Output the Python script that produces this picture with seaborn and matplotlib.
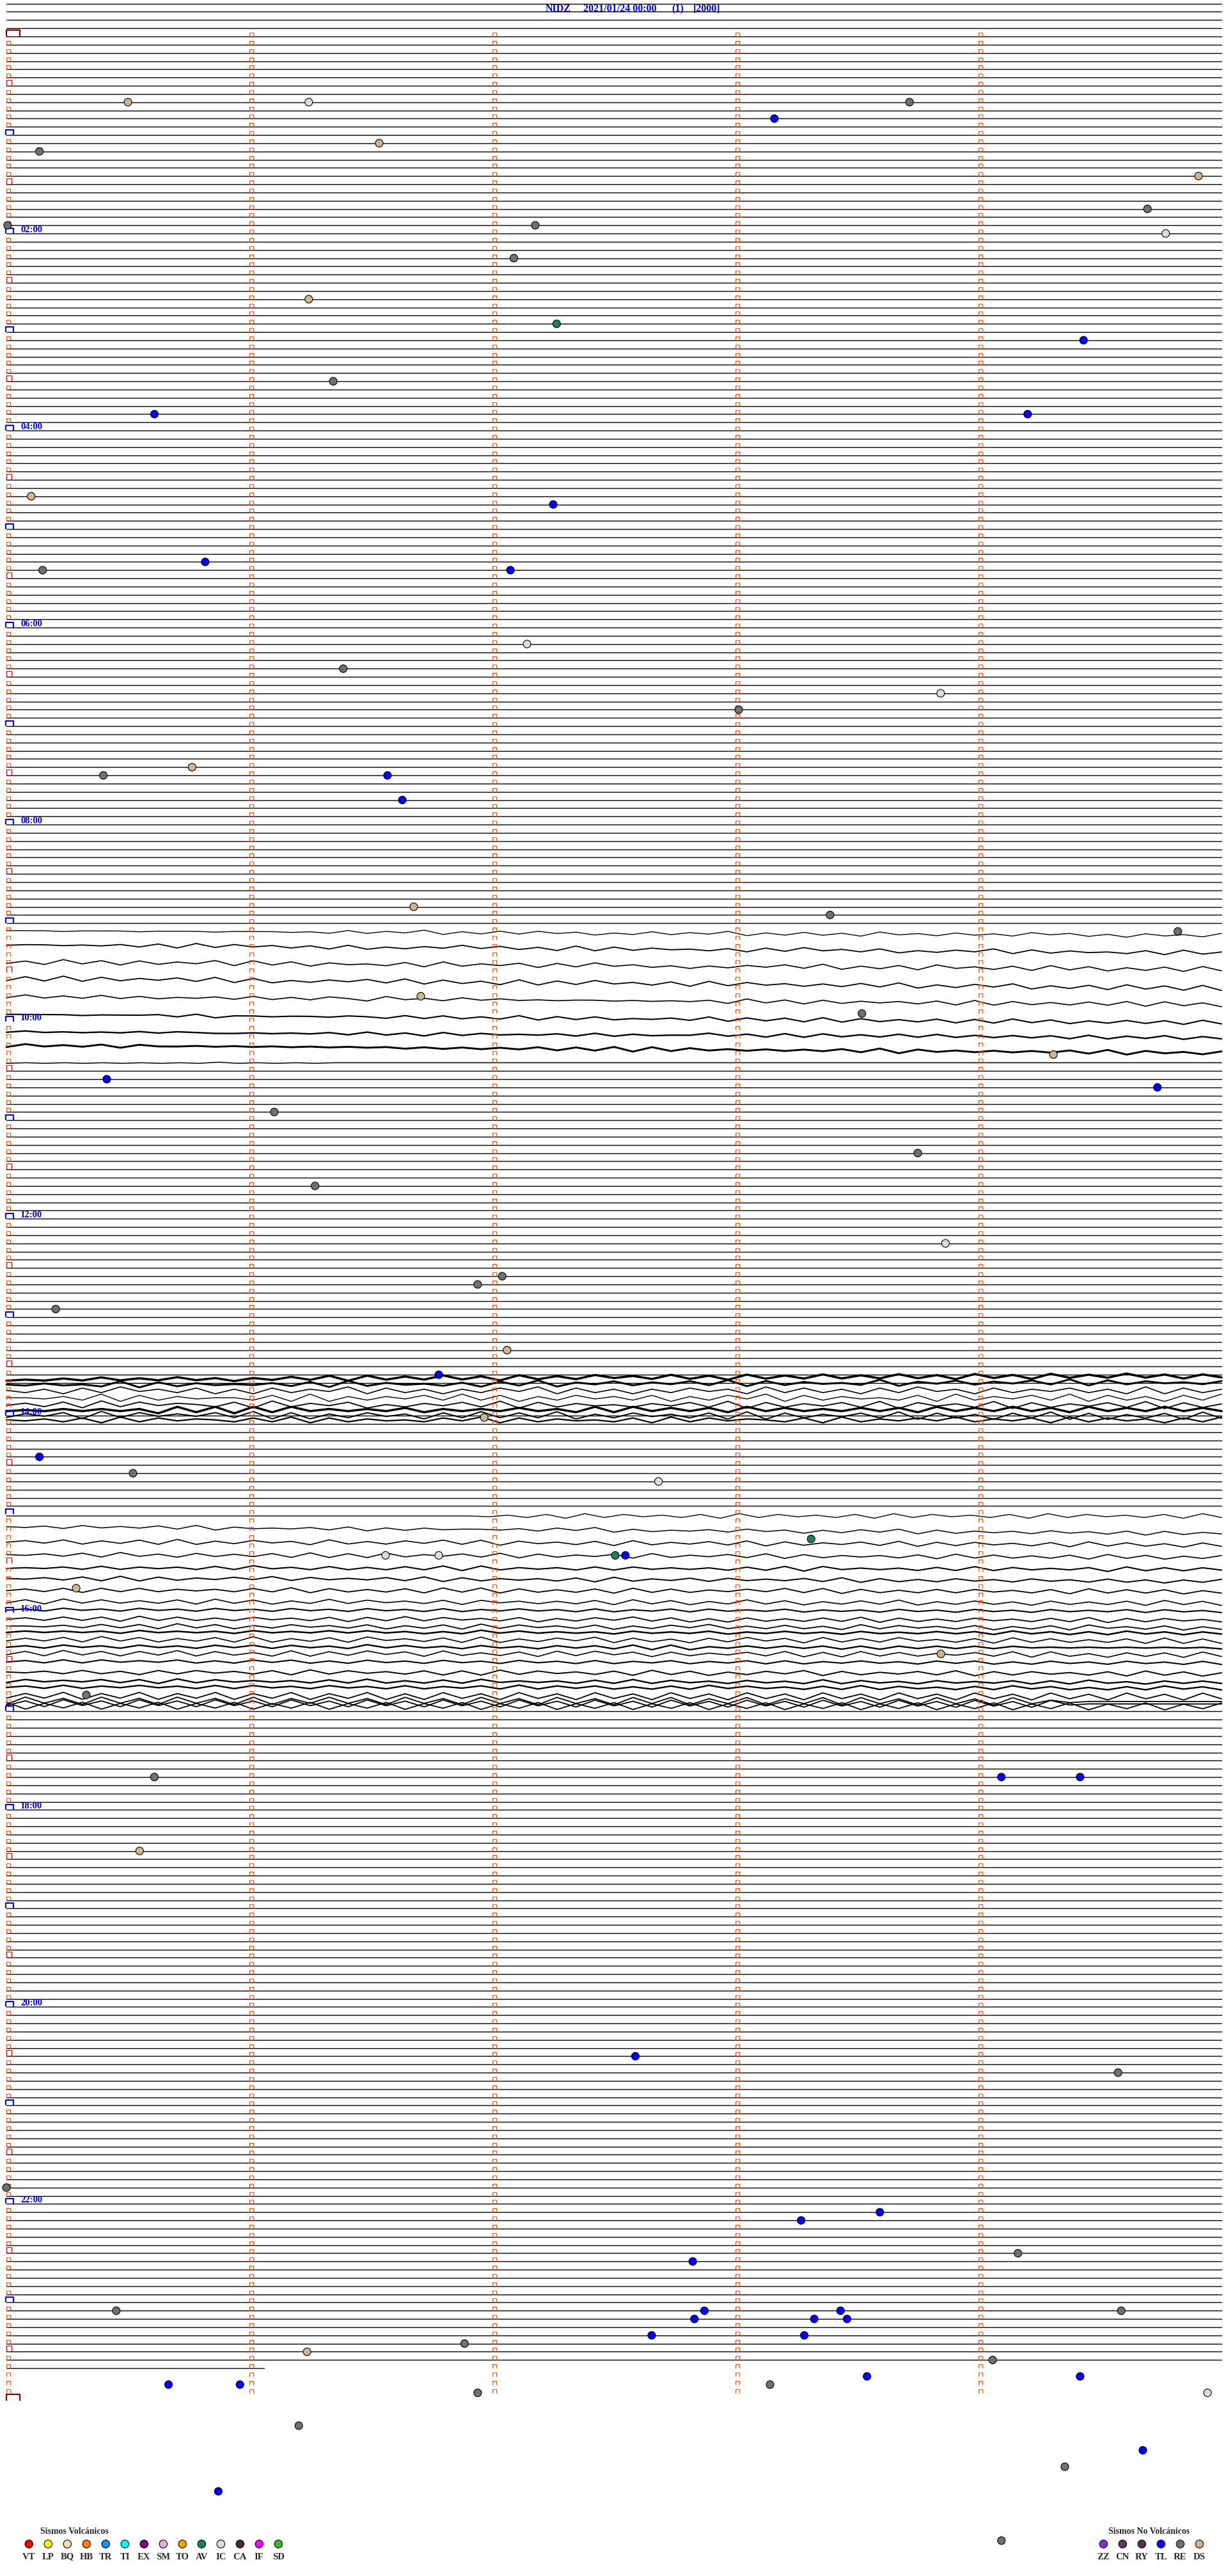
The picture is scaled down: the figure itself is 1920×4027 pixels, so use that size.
import numpy as np
import pandas as pd
import matplotlib
matplotlib.use("Agg")
import matplotlib.pyplot as plt
from matplotlib.path import Path
import seaborn as sns

sns.set_style("white")
plt.rcParams['font.family'] = ['Liberation Serif', 'DejaVu Serif']

# header text
station = "NIDZ"
start_time = "2021/01/24 00:00"
channel = "(1)"
gain = "[2000]"

# drum layout: one row = 5 minutes, 288 rows per day
rows_per_day = 288
top_row = -4            # rows left over from the previous day
last_row = 284          # last row that has data
last_row_end = 1.06     # minutes of data in that row

# rows where the trace is a quiet straight line (inclusive spans)
quiet_spans = [(-4, 108), (126, 164), (168, 179), (204, 283)]

# noisy rows: centre row, drift across the row, px per step, line width, shape
wave_row = [108.9, 110.6, 112.7, 114.7, 116.9, 119.1, 121.2, 122.9, 125.0,
            163.6, 164.2, 164.9, 165.8, 166.6, 167.3, 167.9, 168.5,
            180.2, 181.5, 183.3, 184.9, 186.5, 187.8, 189.2, 190.6, 191.6,
            192.7, 193.6, 194.3, 195.2, 196.1, 196.9, 197.9, 199.2, 200.3,
            201.0, 202.1, 202.7, 203.0, 203.3]
wave_tilt = [0.6, 1.0, 0.9, 1.2, 1.0, 1.0, 0.8, 0.9, 0.0,
             -0.4, -0.3, 0.0, 0.0, 0.1, 0.0, 0.1, 0.0,
             0.0, 0.8, 0.4, 0.3, 0.2, 0.3, 0.2, 0.2, 0.2,
             0.2, 0.2, 0.2, 0.2, 0.2, 0.2, 0.2, 0.2, 0.2,
             0.2, 0.1, 0.1, 0.1, 0.1]
wave_amp = [1.1, 1.2, 1.3, 1.3, 1.2, 1.1, 1.1, 1.2, 0.9,
            1.6, 1.6, 1.8, 1.9, 1.8, 1.7, 1.9, 1.5,
            1.2, 1.2, 1.3, 1.2, 1.2, 1.2, 1.3, 1.3, 1.1,
            1.3, 1.3, 1.1, 1.4, 1.2, 1.4, 1.2, 1.3, 1.2,
            1.2, 1.8, 1.9, 1.8, 1.8]
wave_lw = [1.0, 1.3, 1.2, 1.3, 1.2, 1.5, 1.7, 2.1, 1.1,
           2.5, 2.1, 1.2, 1.0, 1.3, 2.5, 1.4, 1.6,
           1.0, 1.1, 1.2, 1.2, 1.5, 1.4, 1.3, 1.2, 1.5,
           1.3, 1.3, 1.8, 1.2, 1.7, 1.2, 1.5, 1.4, 1.7,
           1.7, 1.3, 1.3, 1.3, 1.3]
wave_shape = [
    "55545554555455545373648263737462537364826373628463746385736274638",
    "45545463728374636272536484736282736453627384637253648273645372836",
    "36283727364828372645372836472738463525364738263728463728372637283",
    "27282736473827253647382736282738463728374636373826374826372837282",
    "37363736354637363752846374645455454546283727364637282736373828372",
    "55554555637255455465373736382737354638273728273637272837263737283",
    "46454546465445454637362736454637364558473838474848474747383748374",
    "37464737556565656565646464647373828374646464738274646464738274637",
    "4545454545464545455555555555555555555555555555555555555555555555",
    "45464746474636474838474847384748574847384748474847384738474847374",
    "54645382736454637283645362738264736473827364538264736473827364536",
    "53627384637262736482736263748273626374628373627384627364736282736",
    "55463827364553728263647383726374637263748273645372836473827362738",
    "46372837465372836472536473827364536473827364738274638273647382736",
    "45464646283828384646473646474638384747384746474738474847384748474",
    "36472837464738272637462738373826374637282736473827362738272637283",
    "54637283746537382736453748273645372837465372836474836472837462738",
    "5555555555555555555555555463728374637283746372837463728374637283",
    "54637464738264546372636455463748263546374626374827364637463727364",
    "46372637282637462836374838274637283647382736473827374637283736273",
    "54637283627363728272836473827364728364738273646372837363728372637",
    "45463736463738463736373828364637374646373828464637383746472837374",
    "54637282736474837464738273646372836473746473827363746374637362637",
    "46372737364637382736372838273637283736474838273637374637283737263",
    "37283736372837263837463727463637283726383726373826373627363728372",
    "46374637463746374637463736474637364737464736463746374637464737463",
    "46373728373637463727383746372637483726273637382736374637382737463",
    "55463737283726374637263728374637263748363736283746372637284637263",
    "46464637464637464747463638474646374647364746374647473847373847374",
    "36372837263728263728463728263748273627384728373846372837363728272",
    "46374637463747374638474637463747382826474747373747474756565656564",
    "37283727382736282738472836372838472736473827283736473828362737283",
    "46373746473637473637463746374637364736473736474637473637463746373",
    "54637362737463728374637272837463728372637482736473827374637283726",
    "37464737283746463738363738464637383746374638374637464737384637474",
    "46373647463737463746373647383747363738474637383746373847363738473",
    "37382738273827382738272837283728372837283728372837283728372837283",
    "28372837283728273837283728372837283827382738283728372836455555555",
    "37283728372837283728372837283728372837283728372837283728455555555",
    "82738273827382738273827382738273827382738273827382738273827382738",
]

# picked events: row on the drum, minute inside the row, class
ev_row = [8, 8, 10, 8, 14, 13, 17, 21, 24, 23, 23, 27, 32, 35, 37, 42, 46, 46,
          56, 57, 65, 64, 65, 74, 77, 80, 82, 90, 89, 90, 93, 106, 107, 109.0,
          116.9, 119.0, 124.0, 127, 128, 131, 136, 140, 147, 151, 152, 155, 160,
          163, 168.2, 173, 175, 176, 183, 185, 185, 185, 185, 189, 197, 202,
          212, 212, 212, 221, 246, 248, 262, 266, 265, 270, 271, 277, 277, 278,
          277, 278, 278, 277, 280, 280, 281, 282, 283, 286, 286, 287, 286, 285,
          285, 287, 291, 294, 296, 299, 305]
ev_min = [0.50, 1.244, 3.16, 3.716, 0.136, 1.534, 4.905, 4.695, 4.77, 0.005,
          2.176, 2.088, 1.244, 2.264, 4.432, 1.345, 0.609, 4.202, 0.102, 2.25,
          0.149, 0.818, 2.074, 2.142, 1.386, 3.844, 3.013, 0.399, 0.764, 1.568,
          1.629, 1.676, 3.389, 4.82, 1.705, 3.52, 4.308, 0.413, 4.736, 1.102,
          3.75, 1.27, 3.864, 2.04, 1.939, 0.203, 2.06, 1.779, 1.966, 0.136,
          0.521, 2.683, 3.311, 1.56, 1.779, 2.505, 2.547, 0.287, 3.845, 0.329,
          0.609, 4.094, 4.418, 0.548, 2.588, 4.574, 0.0, 3.27, 3.594, 4.162,
          2.824, 0.452, 2.872, 2.831, 3.432, 3.324, 3.459, 4.587, 2.655, 3.283,
          1.885, 1.237, 4.058, 0.667, 0.961, 1.939, 3.142, 3.541, 4.418, 4.942,
          1.203, 4.676, 4.355, 0.872, 4.094]
ev_type = ["DS", "IC", "TL", "RE", "RE", "DS", "DS", "RE", "IC", "RE", "RE", "RE",
           "DS", "AV", "TL", "RE", "TL", "TL", "DS", "TL", "RE", "TL", "TL", "IC",
           "RE", "IC", "RE", "RE", "DS", "TL", "TL", "DS", "RE", "RE", "DS", "RE",
           "DS", "TL", "TL", "RE", "RE", "RE", "IC", "RE", "RE", "RE", "DS", "TL",
           "DS", "TL", "RE", "IC", "AV", "IC", "IC", "AV", "TL", "DS", "DS", "RE",
           "RE", "TL", "TL", "DS", "TL", "RE", "RE", "TL", "TL", "RE", "TL", "RE",
           "TL", "TL", "TL", "TL", "TL", "RE", "TL", "TL", "RE", "DS", "RE", "TL",
           "TL", "RE", "RE", "TL", "TL", "IC", "RE", "TL", "RE", "TL", "RE"]

# legend classes
volc_codes = ["VT", "LP", "BQ", "HB", "TR", "TI", "EX", "SM", "TO", "AV", "IC", "CA", "IF", "SD"]
volc_colors = ["#ff0000", "#ffff00", "#f2e2a8", "#ff8000", "#1e8cff", "#00ffff", "#800080",
               "#eaa8e8", "#ffa000", "#1e8060", "#dcdcdc", "#4a2a44", "#ff00ff", "#30c030"]
novolc_codes = ["ZZ", "CN", "RY", "TL", "RE", "DS"]
novolc_colors = ["#8a30d0", "#583a5e", "#5a3056", "#0000ff", "#707070", "#d2b48c"]

ROW_PX = 12.835
COL_PX = 380.0
X0_PX, Y0_PX = 10.0, 57.0
W, H = 1920, 4027

fig = plt.figure(figsize=(W / 100, H / 100), dpi=100)
ax = fig.add_axes([0, 0, 1, 1])

# quiet rows
flat = []
for a, b in quiet_spans:
    for r in range(a, b + 1):
        flat += [(r, 0.0, r), (r, 5.0, r)]
flat += [(last_row, 0.0, last_row), (last_row, last_row_end, last_row)]
flat_df = pd.DataFrame(flat, columns=["trace", "minute", "row"])
sns.lineplot(data=flat_df, x="minute", y="row", units="trace", estimator=None,
             sort=False, color="black", lw=1.0, ax=ax, zorder=2)

# noisy rows
for i, shape in enumerate(wave_shape):
    vals = np.array([int(c) - 5 for c in shape], dtype=float)
    mins = np.linspace(0, 5, len(vals))
    rows = wave_row[i] + wave_tilt[i] * mins / 5 - vals * wave_amp[i] / ROW_PX
    sns.lineplot(x=mins, y=rows, sort=False, estimator=None, color="black",
                 lw=wave_lw[i], ax=ax, zorder=2)


# minute ticks on the drum: open brackets sitting on each row
def bracket(w, h):
    return Path([(-w / 2, 0), (-w / 2, h), (w / 2, h), (w / 2, 0)],
                [Path.MOVETO, Path.LINETO, Path.LINETO, Path.LINETO])


def ms_for(w, h):
    return 2 * max(w / 2, h) * 0.72


small_rows, small_cols = [], []
red_rows, blue_rows, day_rows = [], [], [0, rows_per_day]
for r in range(0, rows_per_day):
    for c in range(5):
        if c == 0 and r % 12 == 0:
            if r > 0:
                blue_rows.append(r)
        elif c == 0 and r % 12 == 6:
            red_rows.append(r)
        else:
            small_rows.append(r)
            small_cols.append(c)

ax.plot(np.array(small_cols) + 2.8 / COL_PX, small_rows, ls="none",
        marker=bracket(5.7, 5.7), ms=ms_for(5.7, 5.7), mfc="none",
        mec="#ff4a10", mew=0.8, zorder=3)
ax.plot(np.full(len(red_rows), 4.3 / COL_PX), red_rows, ls="none",
        marker=bracket(8.7, 8.7), ms=ms_for(8.7, 8.7), mfc="none",
        mec="#ff0000", mew=0.9, zorder=3)
ax.plot(np.full(len(blue_rows), 5.0 / COL_PX), blue_rows, ls="none",
        marker=bracket(11.4, 8.5), ms=ms_for(11.4, 8.5), mfc="none",
        mec="#0000ff", mew=1.5, zorder=3)
ax.plot(np.full(len(day_rows), 9.7 / COL_PX), day_rows, ls="none",
        marker=bracket(21, 10), ms=ms_for(21, 10), mfc="none",
        mec="#8b0000", mew=1.6, zorder=3)

for h in range(2, 24, 2):
    ax.text(22 / COL_PX, h * 12 - 0.45, f"{h:02d}:00", color="#0000ff",
            fontsize=10.5, fontweight="bold", ha="left", va="center", zorder=4)

# events
ev_df = pd.DataFrame({"row": ev_row, "minute": ev_min, "type": ev_type})
palette = dict(zip(volc_codes + novolc_codes, volc_colors + novolc_colors))
sns.scatterplot(data=ev_df, x="minute", y="row", hue="type", palette=palette,
                s=75, edgecolor="black", linewidth=0.8, legend=False, ax=ax, zorder=6)

ax.set_xlim(-X0_PX / COL_PX, (W - X0_PX) / COL_PX)
ax.set_ylim((H - Y0_PX) / ROW_PX, -Y0_PX / ROW_PX)
ax.axis("off")

# overlay in pixel units for the header and the legends
lax = fig.add_axes([0, 0, 1, 1], facecolor="none")
lax.set_xlim(0, W)
lax.set_ylim(H, 0)
lax.axis("off")

for txt, x in [(station, 853), (start_time, 912), (channel, 1050), (gain, 1084)]:
    lax.text(x, 14, txt, color="#0000ff", fontsize=11.5, fontweight="bold",
             ha="left", va="center")

leg_x = [45.3 + 30 * k for k in range(len(volc_codes))]
sns.scatterplot(x=leg_x, y=[3977] * len(leg_x), hue=volc_codes, palette=dict(zip(volc_codes, volc_colors)),
                s=80, edgecolor="black", linewidth=0.8, legend=False, ax=lax, zorder=5)
for x, code in zip(leg_x, volc_codes):
    lax.text(x, 3997, code, fontsize=10.5, fontweight="bold", ha="center", va="center")
lax.text(63, 3957, "Sismos Volcánicos", fontsize=10, fontweight="bold", ha="left", va="center")

leg_x2 = [1725.3 + 30 * k for k in range(len(novolc_codes))]
sns.scatterplot(x=leg_x2, y=[3977] * len(leg_x2), hue=novolc_codes, palette=dict(zip(novolc_codes, novolc_colors)),
                s=80, edgecolor="black", linewidth=0.8, legend=False, ax=lax, zorder=5)
for x, code in zip(leg_x2, novolc_codes):
    lax.text(x, 3997, code, fontsize=10.5, fontweight="bold", ha="center", va="center")
lax.text(1733, 3957, "Sismos No Volcánicos", fontsize=10, fontweight="bold", ha="left", va="center")
lax.set_xlim(0, W)
lax.set_ylim(H, 0)

fig.savefig("out.png", dpi=100)
